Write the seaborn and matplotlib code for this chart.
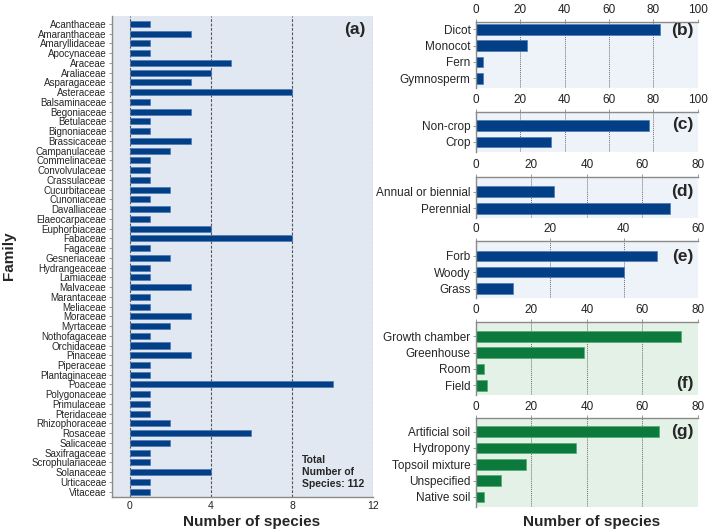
"""Species counts by family and by plant group / growth condition."""
import matplotlib
matplotlib.use("Agg")
import matplotlib.pyplot as plt
import seaborn as sns

families = [
    "Acanthaceae", "Amaranthaceae", "Amaryllidaceae", "Apocynaceae", "Araceae",
    "Araliaceae", "Asparagaceae", "Asteraceae", "Balsaminaceae", "Begoniaceae",
    "Betulaceae", "Bignoniaceae", "Brassicaceae", "Campanulaceae", "Commelinaceae",
    "Convolvulaceae", "Crassulaceae", "Cucurbitaceae", "Cunoniaceae", "Davalliaceae",
    "Elaeocarpaceae", "Euphorbiaceae", "Fabaceae", "Fagaceae", "Gesneriaceae",
    "Hydrangeaceae", "Lamiaceae", "Malvaceae", "Marantaceae", "Meliaceae",
    "Moraceae", "Myrtaceae", "Nothofagaceae", "Orchidaceae", "Pinaceae",
    "Piperaceae", "Plantaginaceae", "Poaceae", "Polygonaceae", "Primulaceae",
    "Pteridaceae", "Rhizophoraceae", "Rosaceae", "Salicaceae", "Saxifragaceae",
    "Scrophulariaceae", "Solanaceae", "Urticaceae", "Vitaceae",
]
family_counts = [
    1, 3, 1, 1, 5, 4, 3, 8, 1, 3,
    1, 1, 3, 2, 1, 1, 1, 2, 1, 2,
    1, 4, 8, 1, 2, 1, 1, 3, 1, 1,
    3, 2, 1, 2, 3, 1, 1, 10, 1, 1,
    1, 2, 6, 2, 1, 1, 4, 1, 1,
]

clade_labels = ["Dicot", "Monocot", "Fern", "Gymnosperm"]
clade_counts = [83, 23, 3, 3]

crop_labels = ["Non-crop", "Crop"]
crop_counts = [78, 34]

life_labels = ["Annual or biennial", "Perennial"]
life_counts = [28, 70]

form_labels = ["Forb", "Woody", "Grass"]
form_counts = [49, 40, 10]

growth_labels = ["Growth chamber", "Greenhouse", "Room", "Field"]
growth_counts = [74, 39, 3, 4]

medium_labels = ["Artificial soil", "Hydropony", "Topsoil mixture", "Unspecified", "Native soil"]
medium_counts = [66, 36, 18, 9, 3]

BLUE, BLUE_EDGE = "#023f86", "#4d7ab3"
GREEN, GREEN_EDGE = "#0c7a3c", "#52ad70"
SPINE = "#8a8a8a"

sns.set_theme(style="white")
plt.rcParams["font.family"] = ["Liberation Sans", "DejaVu Sans"]

W, H = 709, 532
fig = plt.figure(figsize=(W / 100, H / 100), dpi=100)


def px_axes(left, right, top, bottom):
    return fig.add_axes([left / W, 1 - bottom / H, (right - left) / W, (bottom - top) / H])


# ---- (a) families ----
ax = px_axes(112, 373.3, 16, 497)
ax.set_facecolor("#e1e8f1")
sns.barplot(x=family_counts, y=families, orient="h", color=BLUE, saturation=1,
            width=0.62, edgecolor=BLUE_EDGE, linewidth=0.5, ax=ax)
ax.set_xlim(-0.87, 12)
ax.set_ylim(len(families) - 1 + 0.55, -0.82)
ax.set_xticks([0, 4, 8, 12])
ax.set_axisbelow(True)
ax.xaxis.grid(True, linestyle=(0, (2.5, 1.5)), color="#555555", linewidth=0.8)
ax.set_xlabel("")
ax.set_ylabel("")
for side in ["top", "right"]:
    ax.spines[side].set_visible(False)
for side in ["left", "bottom"]:
    ax.spines[side].set_color(SPINE)
    ax.spines[side].set_linewidth(1.0)
ax.tick_params(axis="y", length=2.5, width=0.6, color=SPINE, pad=1.5, labelsize=7, left=True)
ax.tick_params(axis="x", length=0, pad=3, labelsize=7.5, labelcolor="#222222")
ax.text(0.972, 0.972, "(a)", transform=ax.transAxes, ha="right", va="center",
        fontsize=12.5, fontweight="bold")
ax.text(0.726, 0.087, "Total\nNumber of\nSpecies: 112", transform=ax.transAxes,
        ha="left", va="top", fontsize=7.5, fontweight="bold", linespacing=1.25)

# ---- (b)-(g) ----
panels = [
    ("(b)", clade_labels, clade_counts, 100, BLUE, BLUE_EDGE, "#eef3f9", (21.7, 88), 0.47, 0.864),
    ("(c)", crop_labels, crop_counts, 100, BLUE, BLUE_EDGE, "#eef3f9", (111.7, 151.7), 0.85, 0.67),
    ("(d)", life_labels, life_counts, 80, BLUE, BLUE_EDGE, "#eef3f9", (176.7, 218.3), 0.9, 0.64),
    ("(e)", form_labels, form_counts, 60, BLUE, BLUE_EDGE, "#eef3f9", (240.7, 298.3), 0.93, 0.72),
    ("(f)", growth_labels, growth_counts, 80, GREEN, GREEN_EDGE, "#e3f1e6", (321.7, 395), 0.9, 0.16),
    ("(g)", medium_labels, medium_counts, 80, GREEN, GREEN_EDGE, "#e3f1e6", (418.3, 506.7), 0.82, 0.85),
]

for tag, labels, counts, xmax, color, edge, bg, (top, bottom), top_pad, tag_y in panels:
    ax = px_axes(476, 697.7, top, bottom)
    ax.set_facecolor(bg)
    sns.barplot(x=counts, y=labels, orient="h", color=color, saturation=1,
                width=0.65, edgecolor=edge, linewidth=0.5, ax=ax)
    ax.set_xlim(0, xmax)
    ax.set_ylim(len(labels) - 1 + 0.6, -top_pad)
    ax.set_xticks(range(0, xmax + 1, 20))
    ax.xaxis.tick_top()
    ax.set_axisbelow(True)
    ax.xaxis.grid(True, linestyle=(0, (1, 1)), color="#6e6e6e", linewidth=0.7)
    ax.set_xlabel("")
    ax.set_ylabel("")
    for side in ["bottom", "right"]:
        ax.spines[side].set_visible(False)
    for side in ["top", "left"]:
        ax.spines[side].set_color(SPINE)
        ax.spines[side].set_linewidth(1.0)
    ax.tick_params(axis="y", length=2.5, width=0.6, color=SPINE, pad=1.5, labelsize=8.5, left=True)
    ax.tick_params(axis="x", length=2.5, width=0.6, color=SPINE, pad=1.5, labelsize=8.5,
                   labelcolor="#222222", top=True, bottom=False)
    ax.text(0.982, tag_y, tag, transform=ax.transAxes, ha="right", va="center",
            fontsize=12.5, fontweight="bold")

fig.text(252 / W, 1 - 522 / H, "Number of species", ha="center", va="center",
         fontsize=11, fontweight="bold")
fig.text(592 / W, 1 - 522 / H, "Number of species", ha="center", va="center",
         fontsize=11, fontweight="bold")
fig.text(9 / W, 1 - 256 / H, "Family", ha="center", va="center", rotation=90,
         fontsize=11, fontweight="bold")

fig.savefig("out.png", dpi=100, facecolor="white")
